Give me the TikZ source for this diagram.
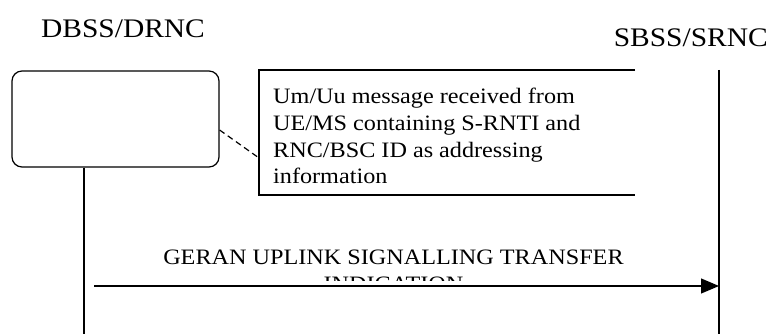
\documentclass[tikz,border=0pt]{standalone}
\usepackage{fontspec}
\setmainfont{Liberation Serif}
\newfontfamily\tnr[FakeStretch=1.1]{Liberation Serif}
\usetikzlibrary{arrows.meta}
\tikzset{
  lw/.style={line width=1.2pt},
  hdr/.style={font=\tnr\fontsize{26.8}{30}\selectfont, inner sep=0pt},
  txt/.style={font=\tnr\fontsize{22}{26.7}\selectfont, inner sep=0pt},
  msg/.style={lw, -{Triangle[length=18pt,width=15pt]}},
}
\begin{document}
\begin{tikzpicture}[x=1pt,y=-1pt]
\useasboundingbox (0,0) rectangle (771,334);
% headers
\node[hdr, anchor=base] (dbss) at (123,38) {DBSS/DRNC};
\node[hdr, anchor=base east] (sbss) at (768,47) {SBSS/SRNC};
% DBSS box and lifeline
\node[lw, draw, rounded corners=10pt, minimum width=207pt, minimum height=96pt, inner sep=0pt] (box) at (115.5,119) {};
\coordinate (dtop) at (box.south -| 84,0);
\coordinate (dbot) at (84,334);
\draw[lw] (dtop) -- (dbot);
% SBSS lifeline
\coordinate (stop) at (719,70);
\coordinate (sbot) at (719,334);
\draw[lw] (stop) -- (sbot);
% note
\coordinate (ntr) at (635,70);
\coordinate (ntl) at (259,70);
\coordinate (nbl) at (259,195);
\coordinate (nbr) at (635,195);
\draw[lw] (ntr) -- (ntl) -- (nbl) -- (nbr);
\node[txt, anchor=north west, align=left] (note) at (273,88)
  {Um/Uu message received from\\UE/MS containing S-RNTI and\\RNC/BSC ID as addressing\\information};
\coordinate (dstart) at (box.east |- 0,130);
\coordinate (dend) at (259,158);
\draw[lw, dash pattern=on 6pt off 4pt] (dstart) -- (dend);
% message
\begin{scope}
\clip (0,0) rectangle (771,280);
\node[txt, anchor=north, align=center] (lbl) at (393.5,250)
  {GERAN UPLINK SIGNALLING TRANSFER\\INDICATION};
\end{scope}
\coordinate (mstart) at (94,286);
\coordinate (mend) at (719,286);
\draw[msg] (mstart) -- (mend);
\end{tikzpicture}
\end{document}
